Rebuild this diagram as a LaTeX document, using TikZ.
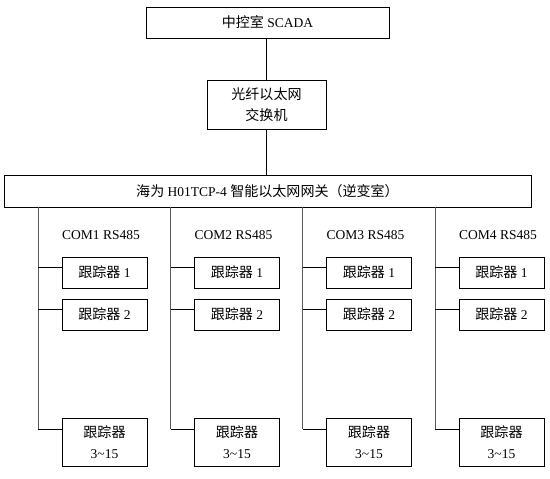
\documentclass[tikz,border=0pt]{standalone}
\usepackage{fontspec}
\setmainfont{Liberation Serif}
\newfontfamily\cjk[Scale=1.04]{Noto Sans CJK SC}
\begin{document}
\begin{tikzpicture}[x=1pt,y=-1pt,
  box/.style={draw, line width=0.8pt, inner sep=0pt, align=center, font=\fontsize{13.5}{20.5}\selectfont},
  lbl/.style={inner sep=0pt, font=\fontsize{13.5}{16}\selectfont},
  conn/.style={line width=0.8pt},
  vconn/.style={line width=0.9pt, black!65}]
\useasboundingbox[fill=white] (0,0) rectangle (550,479);
\node[box, minimum width=243pt, minimum height=31pt] (top) at (267.5,22.5) {{\cjk 中控室} SCADA};
\node[box, minimum width=119pt, minimum height=49pt] (sw) at (266.5,104.5) {{\cjk 光纤以太网}\\{\cjk 交换机}};
\node[box, minimum width=527pt, minimum height=32pt] (gw) at (267.5,191) {{\cjk 海为} H01TCP-4 {\cjk 智能以太网网关（逆变室）}};
\draw[conn] (top.south -| 266,0) -- (sw.north -| 266,0);
\draw[conn] (sw.south -| 266,0) -- (gw.north -| 266,0);
\foreach \i/\vx in {1/38,2/170.5,3/302.5,4/435}{
  \pgfmathsetmacro{\bx}{\vx+24+42.5}
  \node[lbl] (com\i) at (\vx+63,235) {COM\i{} RS485};
  \node[box, minimum width=85pt, minimum height=31pt] (ta\i) at (\bx,272.5) {{\cjk 跟踪器} 1};
  \node[box, minimum width=85pt, minimum height=31pt] (tb\i) at (\bx,314.5) {{\cjk 跟踪器} 2};
  \node[box, minimum width=85pt, minimum height=48pt] (tc\i) at (\bx,442) {{\cjk 跟踪器}\\3\textasciitilde 15};
  \coordinate (ba\i) at (\vx,267);
  \coordinate (bb\i) at (\vx,309);
  \coordinate (bc\i) at (\vx,429);
  \draw[vconn] (gw.south -| bc\i) -- (bc\i);
  \draw[conn] (ba\i) -- (ba\i -| ta\i.west);
  \draw[conn] (bb\i) -- (bb\i -| tb\i.west);
  \draw[conn] (bc\i) -- (bc\i -| tc\i.west);
}
\end{tikzpicture}
\end{document}
